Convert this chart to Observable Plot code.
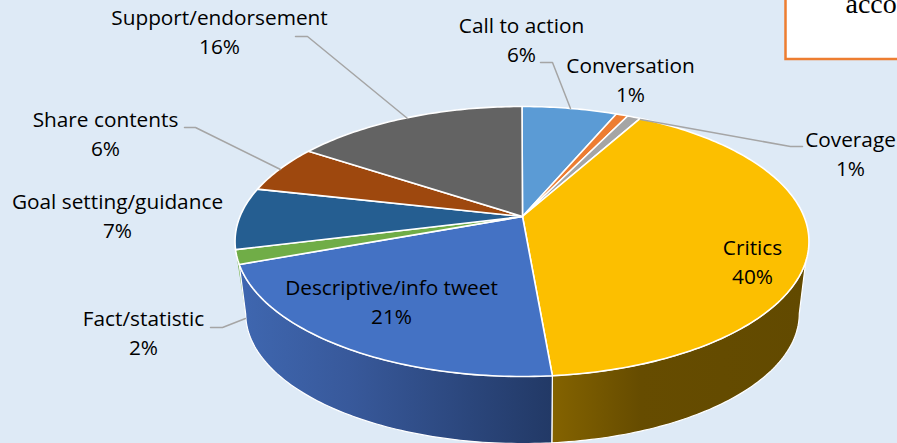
<!DOCTYPE html>
<html>
<head>
<meta charset="utf-8">
<script src="https://cdn.jsdelivr.net/npm/d3@7"></script>
<script src="https://cdn.jsdelivr.net/npm/@observablehq/plot@0.6"></script>
<style>html,body{margin:0;padding:0;background:#deeaf6;overflow:hidden}svg{display:block}</style>
</head>
<body>
<script>
// Data, in drawing order clockwise from twelve o'clock
const categories = ["Call to action","Conversation","Coverage","Critics","Descriptive/info tweet","Fact/statistic","Goal setting/guidance","Share contents","Support/endorsement"];
const shares = [6.4,0.8,0.9,40.5,20.8,1.7,7.4,5.8,15.7];
const percentLabels = ["6%","1%","1%","40%","21%","2%","7%","6%","16%"];
const colors = ["#5b9bd5","#ed7d31","#a5a5a5","#fcbf00","#4472c4","#70ad47","#255e91","#9e480e","#636363"];

// Label placement (centre of the two-line label) and leader lines
const labelX = [521,630,850,752,391,143,117,105,219];
const labelY = [38,78,152,260,300,331,214,132,30];
const leaders = [
  {c:"Call to action", pts:[[540,62],[552,62],[570,108]]},
  {c:"Coverage", pts:[[640,119],[790,146],[802,146]]},
  {c:"Fact/statistic", pts:[[210,327],[222,327],[245,318]]},
  {c:"Share contents", pts:[[184,127],[195,127],[280,169]]},
  {c:"Support/endorsement", pts:[[295,36],[307,36],[407,118]]}
];

const W = 897, H = 443;
// Perspective view of the pie's top and base
const apex = [522,216];
const top3d = {cx:521.5, cy:241, a:282, b:135, off:25, p:0.185};
const base3d = {cx:522, cy:313, a:272, b:130, off:24, p:0.185};
const rad = d => d*Math.PI/180;
function rim(deg, e){
  const X = Math.sin(rad(deg)), Y = -Math.cos(rad(deg)), w = 1 - e.p*Y;
  return {x: e.cx + e.a*X/w, y: e.cy + (e.b*Y - e.off)/w};
}
function arc(d0, d1, e){
  const n = Math.max(2, Math.ceil(Math.abs(d1-d0)));
  return d3.range(n+1).map(i => rim(d0+(d1-d0)*i/n, e));
}
const cum = d3.cumsum(shares);
const startDeg = i => (i ? cum[i-1] : 0)*3.6;
const endDeg = i => cum[i]*3.6;

const topSlices = categories.map((c,i) => [{x:apex[0],y:apex[1]}, ...arc(startDeg(i), endDeg(i), top3d)]);

const iCrit = categories.indexOf("Critics"), iDesc = categories.indexOf("Descriptive/info tweet"), iFact = categories.indexOf("Fact/statistic");
const rightEdge = 109, rightBase = 100.7, leftBase = 259;
const wallCrit = [...arc(rightEdge, endDeg(iCrit), top3d), ...arc(endDeg(iCrit), rightBase, base3d)];
const wallDesc = [...arc(startDeg(iDesc), endDeg(iDesc), top3d), ...arc(leftBase, startDeg(iDesc), base3d)];
const wallFact = [...arc(startDeg(iFact), endDeg(iFact), top3d), rim(leftBase, base3d)];

function gradients(){
  const defs = d3.create("svg:defs");
  const add = (id, stops) => {
    const g = defs.append("linearGradient").attr("id",id).attr("x1",0).attr("x2",1).attr("y1",0).attr("y2",0);
    stops.forEach(([o,c]) => g.append("stop").attr("offset",o).attr("stop-color",c));
  };
  add("wallBlue", [[0,"#3f67b0"],[0.35,"#38599b"],[1,"#223966"]]);
  add("wallGold", [[0,"#846300"],[0.35,"#664c00"],[1,"#624a00"]]);
  return defs.node();
}

const labelRows = categories.map((c,i) => ({text:c+"\n"+percentLabels[i], x:labelX[i], y:labelY[i]}));
const poly = (data, fill, stroke, sw) => Plot.line(data, {x:"x", y:"y", fill, stroke, strokeWidth:sw, strokeLinejoin:"round", curve:"linear-closed"});

const chart = Plot.plot({
  width:W, height:H, margin:0,
  style:{background:"#deeaf6", overflow:"hidden"},
  x:{domain:[0,W], range:[0,W], axis:null},
  y:{domain:[0,H], range:[0,H], axis:null},
  marks:[
    gradients,
    poly(wallFact, "#70ad47", "none", 0),
    poly(wallCrit, "url(#wallGold)", "#fff", 1.2),
    poly(wallDesc, "url(#wallBlue)", "#fff", 1.2),
    ...topSlices.map((s,i) => poly(s, colors[i], "#fff", 1.6)),
    ...leaders.map(l => Plot.line(l.pts.map(([x,y]) => ({x,y})), {x:"x", y:"y", stroke:"#a5a5a5", strokeWidth:1.5})),
    Plot.rect([{x1:785.5,x2:W+10,y1:-10,y2:59}], {x1:"x1",x2:"x2",y1:"y1",y2:"y2",fill:"#fff",stroke:"#ed7d31",strokeWidth:2.5}),
    Plot.text(["acco"], {x:[845], y:[12], text:d=>d, textAnchor:"start", lineAnchor:"bottom", fontFamily:"Liberation Serif", fontSize:28, fill:"#000"}),
    Plot.text(labelRows, {x:"x", y:"y", text:"text", fontFamily:"Open Sans", fontSize:20.8, lineHeight:1.39, fill:"#000", textAnchor:"middle"})
  ]
});
document.body.appendChild(chart);
</script>
</body>
</html>
